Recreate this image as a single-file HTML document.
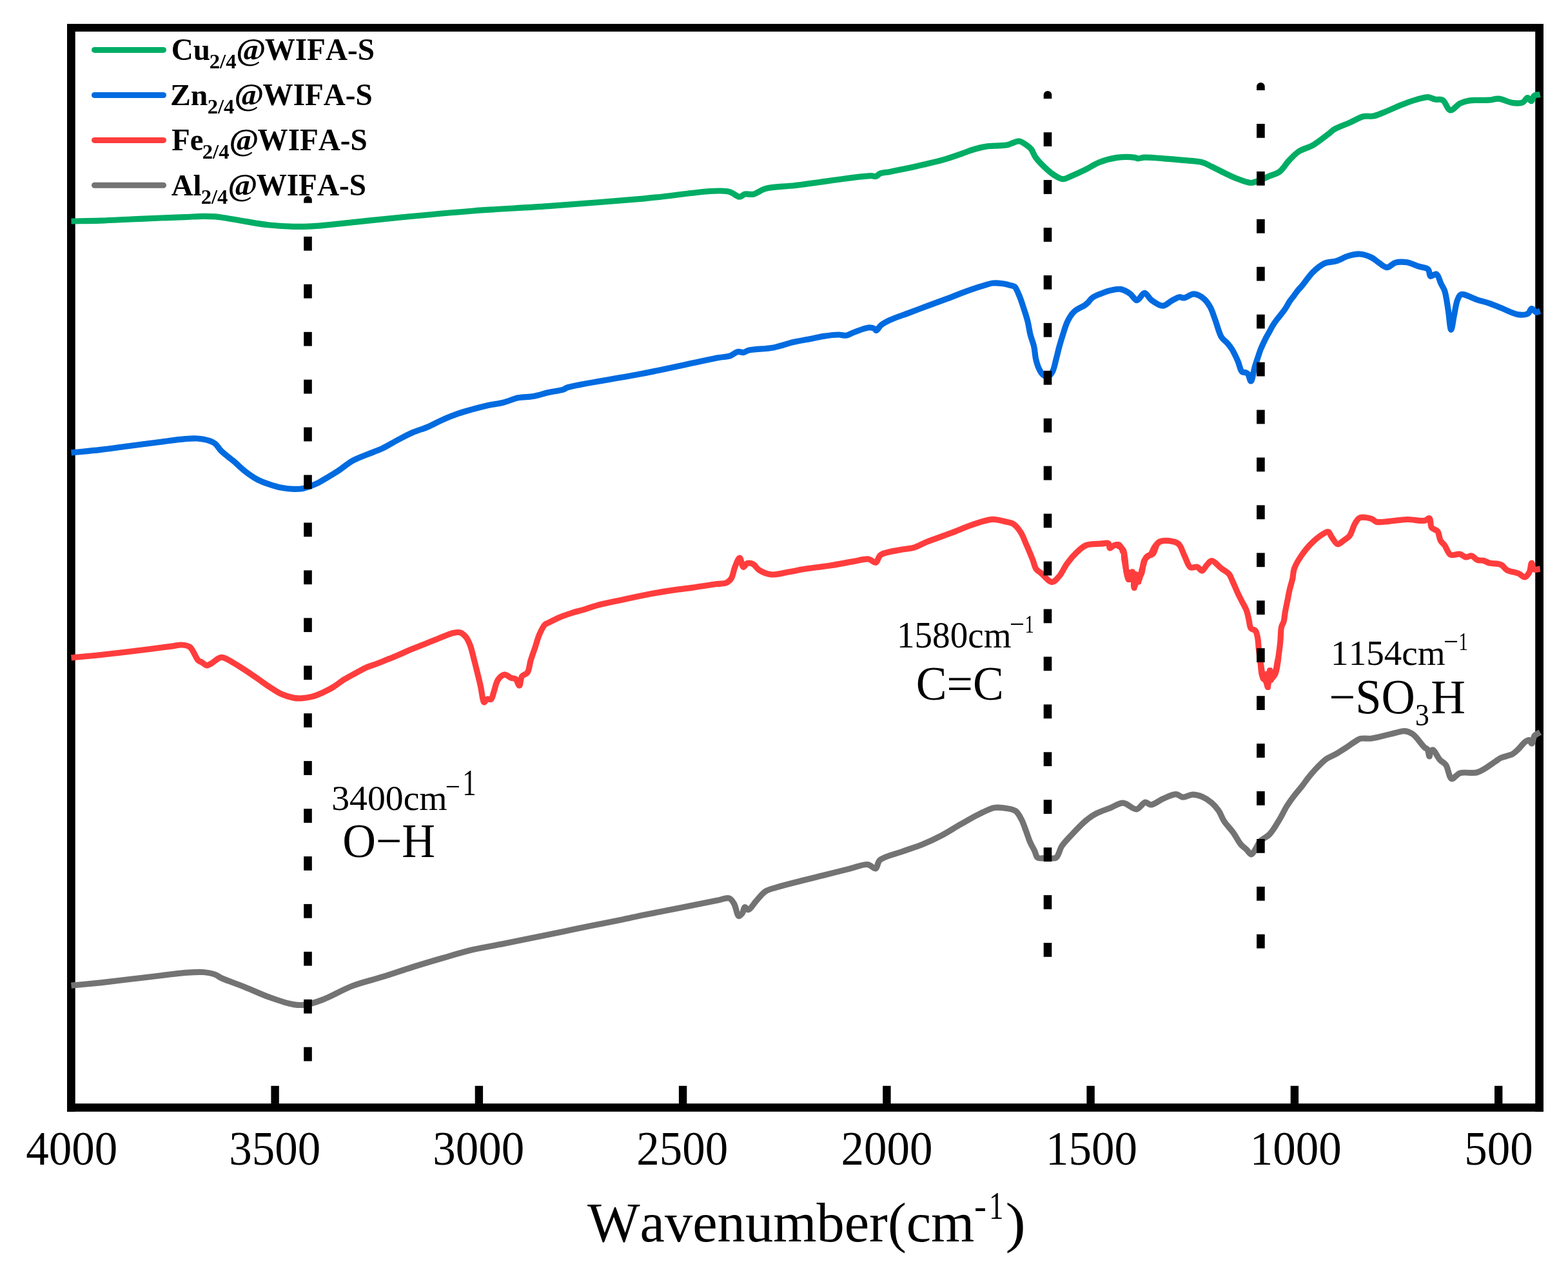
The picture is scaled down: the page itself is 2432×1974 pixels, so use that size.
<!DOCTYPE html>
<html><head><meta charset="utf-8"><title>FTIR spectra</title>
<style>html,body{margin:0;padding:0;background:#fff;overflow:hidden;} svg{display:block;}</style>
</head><body>
<svg width="2432" height="1974" viewBox="0 0 2432 1974" style="font-kerning:none">
<rect x="0" y="0" width="2432" height="1974" fill="#fff"/>
<rect x="104" y="37" width="2290" height="12" fill="#000"/>
<rect x="104" y="1711.2" width="2290" height="12.6" fill="#000"/>
<rect x="104" y="37" width="12.7" height="1686.8" fill="#000"/>
<rect x="2381.2" y="37" width="12.8" height="1686.8" fill="#000"/>
<rect x="2318.0" y="1683.8" width="12.4" height="28" fill="#000"/>
<rect x="2001.7" y="1683.8" width="12.4" height="28" fill="#000"/>
<rect x="1685.4" y="1683.8" width="12.4" height="28" fill="#000"/>
<rect x="1369.2" y="1683.8" width="12.4" height="28" fill="#000"/>
<rect x="1052.9" y="1683.8" width="12.4" height="28" fill="#000"/>
<rect x="736.7" y="1683.8" width="12.4" height="28" fill="#000"/>
<rect x="420.4" y="1683.8" width="12.4" height="28" fill="#000"/>
<path d="M110.5,343.0 C125.7,342.7 140.8,342.6 156.1,342.1 C171.6,341.6 187.3,340.7 202.9,340.0 C218.5,339.3 234.9,338.6 249.6,338.0 C262.8,337.5 275.4,337.1 287.0,336.6 C297.0,336.2 306.6,335.4 315.0,335.3 C321.9,335.3 328.6,335.5 333.8,335.9 C337.4,336.2 339.0,336.4 343.1,337.0 C351.4,338.2 368.0,341.4 380.5,343.4 C393.0,345.4 405.4,347.7 417.9,349.0 C430.3,350.3 443.7,351.1 455.3,351.4 C465.3,351.6 475.3,351.3 483.4,350.9 C489.7,350.6 492.0,350.4 500.0,349.7 C521.3,347.8 577.9,341.3 616.9,337.5 C655.9,333.7 694.8,330.0 733.8,327.0 C772.7,324.0 809.3,322.6 850.6,319.7 C897.4,316.4 952.1,311.8 1000.0,307.8 C1044.5,304.1 1105.2,292.8 1128.6,296.8 C1137.9,298.4 1142.4,305.3 1147.3,305.2 C1150.6,305.1 1152.3,301.7 1155.4,301.0 C1159.1,300.1 1163.7,302.2 1168.3,301.2 C1174.1,300.0 1179.1,294.8 1187.0,292.6 C1198.9,289.3 1214.7,289.7 1233.8,287.5 C1264.0,283.9 1334.3,273.0 1350.6,272.7 C1354.9,272.6 1356.4,274.1 1358.8,273.4 C1361.1,272.8 1362.1,270.3 1364.7,269.2 C1368.5,267.6 1374.1,267.5 1380.0,266.4 C1387.9,264.9 1398.7,262.8 1408.0,260.8 C1417.4,258.8 1426.7,256.6 1436.1,254.4 C1445.5,252.2 1454.9,250.1 1464.2,247.4 C1473.6,244.7 1483.8,241.0 1492.2,238.1 C1499.1,235.7 1504.6,233.3 1510.9,231.5 C1517.1,229.7 1523.3,228.0 1529.6,227.1 C1535.8,226.2 1542.5,226.3 1548.3,225.9 C1553.3,225.5 1558.2,225.7 1562.3,224.8 C1565.7,224.1 1568.1,222.5 1571.2,221.5 C1574.4,220.5 1577.7,218.6 1581.0,219.0 C1584.7,219.4 1589.0,222.8 1592.2,225.0 C1594.9,226.9 1597.1,228.4 1599.2,231.0 C1601.9,234.3 1603.1,239.7 1606.2,244.0 C1609.9,249.1 1615.4,254.8 1620.3,259.4 C1624.8,263.7 1629.4,267.9 1634.3,271.0 C1638.8,273.9 1643.6,277.5 1648.3,277.7 C1652.9,277.9 1657.2,274.8 1662.3,272.7 C1668.7,270.1 1676.4,266.6 1683.4,263.2 C1690.5,259.7 1696.7,255.0 1704.4,252.0 C1712.9,248.6 1723.1,245.7 1732.5,244.4 C1741.8,243.2 1755.3,243.6 1760.5,244.4 C1762.6,244.7 1763.0,245.7 1764.7,245.8 C1767.4,246.0 1770.7,244.4 1775.0,244.2 C1782.4,243.8 1794.9,245.1 1804.9,245.8 C1814.9,246.5 1824.8,247.4 1834.8,248.4 C1844.8,249.4 1856.6,249.6 1864.7,251.8 C1870.7,253.4 1874.7,256.1 1879.7,258.5 C1884.7,260.9 1889.1,263.3 1894.6,266.0 C1901.3,269.3 1909.5,273.6 1917.1,276.5 C1924.5,279.4 1934.0,283.2 1939.5,283.5 C1942.6,283.7 1943.9,282.9 1947.0,282.0 C1952.6,280.3 1962.8,275.6 1969.5,272.8 C1975.0,270.5 1979.8,269.9 1984.4,266.5 C1989.9,262.4 1994.2,254.2 1999.4,248.8 C2004.2,243.8 2008.5,238.9 2014.3,235.0 C2020.7,230.7 2029.5,229.1 2036.8,224.9 C2044.5,220.4 2053.1,213.3 2059.2,208.7 C2063.5,205.5 2065.5,202.9 2070.0,200.3 C2075.9,196.8 2084.9,193.9 2092.4,190.6 C2099.9,187.3 2108.0,182.2 2114.9,180.6 C2120.2,179.4 2124.9,181.0 2129.8,180.1 C2134.9,179.2 2139.0,177.1 2144.8,174.9 C2153.1,171.7 2165.4,165.8 2174.7,162.2 C2182.7,159.1 2190.1,156.4 2197.2,154.4 C2203.4,152.7 2210.0,150.4 2215.1,150.7 C2219.1,150.9 2221.9,153.3 2225.6,154.1 C2229.4,154.9 2234.0,153.2 2237.6,155.2 C2242.2,157.8 2244.9,170.2 2249.5,170.9 C2253.9,171.6 2259.3,162.9 2264.5,160.4 C2269.3,158.1 2273.6,156.8 2279.5,155.9 C2287.7,154.6 2301.2,155.8 2309.4,155.2 C2315.2,154.7 2318.9,152.8 2324.3,153.2 C2331.1,153.7 2340.0,158.8 2346.8,159.6 C2352.2,160.2 2357.8,160.6 2361.7,158.9 C2364.9,157.5 2366.8,151.8 2369.2,151.7 C2371.3,151.6 2373.5,157.0 2375.2,156.7 C2377.1,156.3 2377.4,150.1 2379.7,148.4 C2381.9,146.7 2385.7,147.1 2388.7,146.5" fill="none" stroke="#00AD65" stroke-width="9.2" stroke-linejoin="round" stroke-linecap="butt"/>
<path d="M110.5,701.9 C125.7,700.4 140.8,699.2 156.1,697.4 C171.6,695.6 187.3,693.2 202.9,691.2 C218.5,689.2 234.9,687.0 249.6,685.2 C262.8,683.5 276.7,681.4 287.0,680.6 C294.3,680.0 299.5,679.5 305.7,680.0 C312.0,680.5 319.3,681.7 324.4,683.4 C328.2,684.6 330.9,685.7 333.8,688.0 C337.2,690.7 339.2,695.4 343.1,699.3 C348.1,704.3 355.6,709.3 361.8,714.6 C368.1,719.9 374.1,726.2 380.5,731.1 C386.6,735.8 392.8,740.2 399.2,743.6 C405.3,746.8 411.6,749.0 417.9,751.1 C424.1,753.2 430.3,755.1 436.6,756.3 C442.8,757.5 449.4,758.3 455.3,758.4 C460.6,758.5 464.9,758.5 470.3,757.4 C477.1,756.0 487.3,751.7 492.7,749.2 C495.9,747.7 496.9,746.8 500.0,745.0 C505.6,741.7 515.7,735.9 523.4,730.9 C531.3,725.8 538.8,719.0 546.8,714.5 C554.4,710.3 562.3,707.7 570.1,704.5 C577.9,701.3 585.8,698.7 593.5,695.1 C601.4,691.4 609.1,686.4 616.9,682.3 C624.7,678.2 632.4,674.0 640.3,670.6 C648.0,667.3 655.9,665.2 663.6,661.9 C671.5,658.6 679.1,654.1 687.0,650.7 C694.7,647.3 702.5,644.1 710.4,641.4 C718.1,638.7 726.0,636.6 733.8,634.4 C741.6,632.3 749.3,630.2 757.1,628.5 C764.9,626.8 772.8,626.2 780.5,624.3 C788.4,622.3 796.0,618.4 803.9,616.8 C811.6,615.2 819.6,615.9 827.3,614.5 C835.1,613.1 842.8,610.4 850.6,608.6 C858.4,606.9 868.8,605.8 874.0,604.0 C876.7,603.0 876.6,602.1 880.0,600.9 C894.3,596.0 958.0,587.0 996.9,579.3 C1035.9,571.6 1091.5,558.9 1113.8,554.8 C1122.7,553.2 1127.1,553.6 1132.5,551.8 C1137.0,550.3 1140.3,546.2 1144.1,545.5 C1147.3,544.9 1150.7,546.9 1153.5,546.5 C1156.1,546.1 1157.1,544.3 1160.5,543.4 C1168.2,541.3 1187.8,541.2 1200.0,538.9 C1210.9,536.8 1220.5,533.0 1230.6,530.6 C1240.5,528.3 1251.5,526.6 1260.0,524.9 C1266.6,523.6 1271.1,522.3 1277.4,521.4 C1284.6,520.3 1294.3,519.0 1300.8,519.0 C1305.4,519.0 1308.7,520.7 1312.5,520.2 C1316.4,519.6 1319.5,517.2 1324.1,515.5 C1330.5,513.2 1341.4,508.3 1347.5,508.0 C1351.3,507.8 1354.9,508.9 1356.9,510.0 C1358.1,510.7 1358.2,512.5 1359.2,512.5 C1360.9,512.5 1363.2,507.0 1366.2,504.5 C1369.8,501.5 1374.4,499.1 1380.0,496.4 C1387.9,492.6 1399.9,488.9 1409.9,485.1 C1419.9,481.4 1429.8,477.6 1439.8,473.9 C1449.8,470.2 1459.8,466.6 1469.8,462.9 C1479.8,459.1 1490.4,454.7 1499.7,451.4 C1507.7,448.5 1515.0,446.0 1522.1,443.9 C1528.4,442.0 1534.3,439.6 1540.1,439.0 C1545.3,438.4 1550.1,439.0 1555.0,439.7 C1560.0,440.4 1566.6,442.2 1570.0,443.2 C1571.7,443.7 1572.6,443.5 1573.9,444.7 C1576.4,447.0 1579.0,454.1 1581.3,459.4 C1583.8,465.4 1586.0,472.5 1588.1,479.0 C1590.2,485.5 1592.4,492.0 1594.0,498.5 C1595.6,505.0 1596.3,511.6 1597.9,518.1 C1599.5,524.7 1602.3,531.1 1603.8,537.7 C1605.2,544.2 1605.3,551.3 1606.7,557.3 C1608.0,562.6 1609.6,567.9 1611.6,572.0 C1613.2,575.3 1614.6,578.5 1617.0,580.5 C1619.2,582.4 1622.5,584.5 1625.0,584.0 C1627.6,583.5 1630.2,580.2 1632.2,576.9 C1635.0,572.2 1636.2,563.9 1638.0,557.3 C1639.8,550.8 1641.1,544.2 1642.9,537.7 C1644.7,531.1 1646.7,524.6 1648.8,518.1 C1650.9,511.5 1652.8,504.4 1655.7,498.5 C1658.4,493.1 1661.8,487.5 1665.5,483.8 C1668.6,480.7 1672.7,478.7 1675.7,477.0 C1677.9,475.7 1679.7,475.2 1681.6,474.0 C1683.6,472.7 1685.6,471.0 1687.5,469.2 C1689.6,467.2 1691.0,464.2 1693.4,462.3 C1695.9,460.3 1699.3,458.7 1702.2,457.4 C1704.8,456.2 1707.2,455.5 1710.0,454.5 C1713.1,453.4 1716.1,451.9 1719.9,451.0 C1725.0,449.8 1732.3,447.6 1737.9,448.4 C1743.2,449.2 1748.5,452.5 1752.8,455.5 C1756.9,458.3 1759.7,465.6 1763.3,465.6 C1767.2,465.6 1771.5,454.3 1775.3,454.4 C1779.0,454.5 1781.5,462.1 1785.8,465.2 C1790.7,468.8 1798.2,474.4 1803.7,474.2 C1808.6,474.1 1812.8,468.7 1817.2,466.4 C1821.2,464.3 1825.5,461.2 1829.1,460.7 C1831.8,460.3 1833.7,462.2 1836.6,461.9 C1840.8,461.4 1846.6,455.8 1851.6,455.9 C1856.6,456.0 1862.3,459.3 1866.5,462.6 C1870.8,466.0 1874.1,470.9 1877.0,476.0 C1880.2,481.6 1881.9,488.3 1884.6,495.3 C1887.8,503.7 1890.5,516.4 1894.6,522.9 C1897.3,527.2 1901.1,529.0 1903.8,532.2 C1906.4,535.2 1908.4,537.7 1910.7,541.4 C1913.8,546.4 1917.2,553.8 1919.9,559.8 C1922.4,565.4 1923.5,574.0 1926.4,576.5 C1928.0,577.9 1930.4,577.1 1932.0,577.8 C1933.4,578.4 1934.5,578.7 1935.6,580.0 C1937.4,582.1 1938.7,591.1 1940.2,591.0 C1942.3,590.9 1944.1,576.0 1946.2,569.0 C1948.1,562.6 1950.5,555.7 1952.2,550.6 C1953.4,547.0 1954.2,544.4 1955.4,541.4 C1956.6,538.3 1958.1,535.3 1959.5,532.2 C1961.0,529.1 1962.5,526.0 1964.1,522.9 C1965.7,519.8 1967.5,516.8 1969.2,513.7 C1970.9,510.6 1972.4,507.5 1974.3,504.5 C1976.2,501.4 1978.4,498.3 1980.7,495.3 C1983.0,492.2 1985.8,489.2 1988.1,486.1 C1990.4,483.1 1992.6,480.0 1994.6,476.9 C1996.6,473.8 1998.1,470.6 2000.1,467.6 C2002.2,464.5 2004.7,461.5 2007.0,458.4 C2009.3,455.3 2011.8,451.7 2013.9,449.2 C2015.4,447.4 2016.3,446.8 2018.2,444.7 C2022.3,440.1 2030.0,428.2 2036.5,421.9 C2042.2,416.4 2048.3,411.2 2054.7,408.3 C2060.5,405.7 2066.9,406.5 2072.9,404.6 C2079.1,402.7 2085.0,398.6 2091.2,396.8 C2097.2,395.1 2103.4,393.6 2109.4,394.0 C2115.5,394.4 2122.5,397.0 2127.6,399.5 C2131.9,401.6 2134.7,404.8 2138.6,407.3 C2142.6,409.9 2147.1,414.6 2151.3,414.6 C2155.6,414.6 2159.3,408.7 2164.1,407.3 C2169.5,405.8 2176.3,405.9 2182.3,406.8 C2188.5,407.8 2194.8,411.3 2200.6,413.2 C2205.7,414.9 2212.1,414.8 2215.1,417.7 C2217.7,420.2 2216.5,427.2 2218.8,428.3 C2220.9,429.3 2225.4,424.0 2227.9,425.0 C2231.2,426.4 2232.9,435.6 2235.2,440.2 C2237.1,444.1 2239.1,446.4 2240.7,451.1 C2243.1,458.4 2244.5,470.4 2246.1,480.3 C2247.8,490.5 2249.0,511.2 2250.7,511.3 C2252.1,511.3 2253.7,496.9 2255.3,489.4 C2257.0,481.4 2258.2,470.6 2260.7,464.8 C2262.3,461.1 2263.1,457.7 2266.2,456.6 C2271.3,454.9 2283.9,462.7 2291.7,465.1 C2298.3,467.1 2304.0,468.3 2310.0,470.3 C2316.1,472.4 2321.5,474.9 2328.2,477.5 C2336.4,480.7 2347.7,487.0 2355.5,487.9 C2361.0,488.6 2366.7,488.1 2370.1,486.1 C2372.8,484.5 2373.5,478.8 2375.6,478.5 C2377.7,478.2 2380.5,483.9 2382.9,484.3 C2384.9,484.6 2386.8,482.8 2388.7,482.1" fill="none" stroke="#006BE0" stroke-width="9.2" stroke-linejoin="round" stroke-linecap="butt"/>
<path d="M110.5,1019.8 C125.7,1018.4 140.1,1017.2 156.1,1015.5 C173.8,1013.6 193.5,1011.3 212.2,1009.0 C230.9,1006.7 256.1,1003.6 268.3,1001.9 C274.2,1001.1 277.1,999.8 281.4,1000.0 C285.8,1000.2 291.3,1001.2 294.5,1003.4 C297.2,1005.2 298.2,1008.2 300.1,1011.2 C302.5,1015.0 304.9,1021.7 307.6,1024.3 C309.4,1026.0 311.2,1026.0 313.2,1027.1 C315.5,1028.4 318.2,1031.6 320.7,1031.8 C323.1,1032.0 325.3,1030.1 328.1,1028.6 C332.3,1026.4 337.7,1019.7 343.1,1019.3 C348.9,1018.9 355.7,1024.4 361.8,1027.7 C368.1,1031.1 374.3,1035.3 380.5,1039.3 C386.8,1043.4 393.0,1047.7 399.2,1052.0 C405.4,1056.3 411.6,1061.0 417.9,1065.1 C424.1,1069.1 430.2,1073.4 436.6,1076.3 C442.7,1079.0 449.8,1081.1 455.3,1082.1 C459.5,1082.9 462.4,1083.1 466.5,1082.9 C471.6,1082.7 477.9,1081.8 483.4,1080.4 C489.0,1078.9 494.5,1076.6 500.0,1074.2 C505.7,1071.7 511.3,1068.8 516.8,1065.5 C522.5,1062.0 528.0,1057.3 533.7,1053.7 C539.2,1050.3 544.9,1047.4 550.5,1044.4 C556.1,1041.4 561.6,1038.0 567.3,1035.5 C572.8,1033.0 578.6,1031.4 584.2,1029.3 C589.8,1027.1 595.4,1024.8 601.0,1022.6 C606.6,1020.3 612.2,1018.2 617.8,1015.8 C623.4,1013.4 629.0,1010.7 634.6,1008.3 C640.2,1005.9 645.9,1003.8 651.5,1001.5 C657.1,999.3 662.7,997.0 668.3,994.8 C673.9,992.6 679.5,990.3 685.1,988.1 C690.7,985.9 696.8,982.9 702.0,981.7 C706.2,980.8 710.3,979.8 713.7,980.8 C717.0,981.8 719.8,984.4 722.2,987.2 C725.0,990.5 726.9,994.8 728.9,999.8 C731.6,1006.5 733.6,1016.4 735.6,1024.2 C737.5,1031.2 739.0,1037.6 740.7,1044.4 C742.4,1051.4 744.3,1058.6 745.7,1065.5 C747.1,1072.1 747.9,1080.7 749.1,1084.8 C749.7,1086.7 749.9,1088.8 750.8,1089.0 C751.9,1089.2 753.9,1084.7 755.8,1084.0 C757.6,1083.3 760.1,1085.3 761.7,1084.3 C763.9,1082.8 764.4,1077.4 765.9,1073.1 C767.9,1067.5 769.2,1058.4 772.6,1053.7 C775.3,1050.0 779.2,1046.4 782.7,1046.1 C786.0,1045.8 789.7,1050.0 792.8,1051.2 C795.2,1052.1 797.7,1051.4 799.6,1052.9 C802.1,1054.8 803.9,1063.2 805.5,1063.0 C807.3,1062.8 807.2,1052.2 809.7,1048.7 C811.8,1045.8 816.0,1045.8 818.1,1042.8 C821.0,1038.6 821.2,1030.5 823.1,1024.2 C825.1,1017.6 827.7,1010.8 829.9,1004.1 C832.2,997.4 833.9,990.0 836.6,983.9 C839.0,978.4 842.1,971.5 845.0,968.7 C846.6,967.1 847.8,967.1 850.0,966.0 C854.2,963.8 862.4,959.5 868.7,956.9 C874.9,954.3 881.1,952.3 887.4,950.3 C893.6,948.3 899.9,947.0 906.1,945.1 C912.4,943.2 917.4,941.1 924.8,939.1 C935.1,936.3 949.7,933.4 962.2,930.7 C974.7,928.0 987.1,925.1 999.6,922.7 C1012.0,920.3 1024.5,918.0 1037.0,916.1 C1049.4,914.2 1061.9,912.9 1074.4,911.1 C1086.9,909.3 1102.1,906.8 1111.8,905.5 C1117.9,904.7 1122.9,905.4 1126.8,903.6 C1130.0,902.2 1132.2,900.1 1134.2,897.0 C1137.0,892.8 1137.6,884.8 1139.9,879.3 C1142.0,874.2 1145.1,865.1 1147.3,865.2 C1149.4,865.3 1150.6,878.8 1152.9,879.3 C1154.6,879.7 1156.2,874.5 1158.6,873.7 C1161.2,872.8 1165.0,873.2 1167.9,874.6 C1171.3,876.2 1173.3,881.3 1177.3,883.9 C1182.2,887.0 1189.0,890.2 1196.0,890.9 C1204.3,891.8 1214.9,888.3 1224.0,886.8 C1232.8,885.3 1240.5,883.5 1250.0,882.0 C1261.3,880.2 1275.0,878.9 1287.4,877.0 C1299.9,875.1 1313.9,872.2 1324.8,870.4 C1333.2,869.0 1341.1,866.1 1347.2,867.0 C1351.7,867.7 1355.4,873.2 1358.5,872.3 C1361.7,871.3 1361.6,863.6 1365.9,860.5 C1372.6,855.6 1390.0,854.1 1399.6,852.1 C1406.7,850.6 1412.2,850.8 1418.3,848.9 C1424.7,847.0 1429.6,843.5 1437.0,840.5 C1447.3,836.3 1462.0,831.5 1474.4,826.8 C1486.9,822.1 1500.1,816.1 1511.8,812.4 C1521.7,809.2 1531.5,805.6 1539.9,805.3 C1546.7,805.1 1553.0,807.4 1558.6,808.7 C1563.4,809.8 1567.7,810.0 1571.6,812.4 C1575.9,815.1 1579.6,820.0 1582.9,825.0 C1586.7,830.7 1589.1,838.3 1592.2,845.2 C1595.4,852.4 1598.9,860.9 1601.6,867.6 C1603.8,873.1 1604.6,879.0 1607.2,882.6 C1609.2,885.4 1611.6,886.2 1614.6,888.6 C1619.1,892.3 1626.4,902.5 1631.5,902.6 C1635.6,902.7 1639.2,897.7 1642.7,893.8 C1647.2,888.8 1650.4,880.1 1655.0,873.9 C1659.5,867.8 1664.7,861.6 1669.9,856.7 C1674.7,852.2 1679.0,847.7 1684.9,845.4 C1691.3,842.9 1701.0,843.6 1707.3,843.2 C1711.9,842.9 1717.0,841.1 1719.3,842.7 C1721.1,844.0 1720.0,849.3 1721.5,849.9 C1723.2,850.6 1726.8,845.0 1729.8,845.0 C1733.4,845.0 1739.2,848.8 1741.7,852.2 C1744.1,855.5 1743.8,860.0 1744.7,864.9 C1745.9,871.6 1745.9,884.1 1747.7,888.8 C1748.5,891.0 1749.3,892.3 1750.7,893.3 C1752.2,894.4 1755.2,893.3 1756.7,894.8 C1758.9,897.1 1758.4,908.2 1759.7,908.3 C1760.9,908.4 1762.3,900.9 1764.2,897.8 C1765.9,895.0 1768.6,893.7 1770.2,890.3 C1772.6,885.3 1772.2,874.4 1774.6,869.4 C1776.2,866.0 1778.2,863.7 1780.6,861.9 C1782.8,860.3 1785.8,861.0 1788.1,858.9 C1791.7,855.6 1792.1,844.2 1797.1,840.9 C1802.4,837.5 1813.8,838.6 1819.5,839.7 C1823.3,840.4 1825.9,841.3 1828.5,843.9 C1832.3,847.6 1834.4,856.5 1837.5,862.6 C1840.5,868.5 1842.5,877.6 1846.5,879.8 C1849.4,881.4 1853.9,878.2 1856.9,879.1 C1859.8,880.0 1862.0,885.3 1864.4,885.1 C1867.0,884.8 1869.3,878.7 1871.9,876.1 C1874.3,873.7 1876.4,869.8 1879.4,869.7 C1883.5,869.6 1889.6,877.7 1894.3,881.3 C1898.5,884.5 1903.4,886.8 1906.3,890.3 C1908.9,893.4 1909.6,896.7 1911.5,900.7 C1914.0,906.0 1916.9,913.5 1919.6,919.2 C1921.9,924.2 1924.2,928.4 1926.5,933.0 C1928.8,937.6 1931.7,942.1 1933.4,946.8 C1935.1,951.3 1935.8,956.0 1936.9,960.6 C1938.1,965.2 1938.0,971.6 1940.3,974.5 C1942.0,976.6 1945.5,975.9 1947.2,977.9 C1949.3,980.4 1949.8,985.1 1950.7,989.4 C1951.7,994.5 1951.7,1000.5 1952.4,1006.7 C1953.2,1013.8 1954.4,1022.7 1955.3,1029.8 C1956.1,1036.0 1955.9,1042.9 1957.6,1047.0 C1958.7,1049.6 1960.9,1050.5 1962.2,1052.8 C1963.8,1055.7 1965.1,1063.3 1966.2,1063.2 C1967.6,1063.0 1967.3,1044.0 1969.1,1043.6 C1970.3,1043.3 1972.2,1050.6 1973.7,1050.5 C1975.6,1050.4 1978.0,1043.5 1979.5,1039.0 C1981.4,1033.2 1981.9,1025.3 1982.9,1018.2 C1984.0,1010.7 1985.0,1002.9 1985.8,995.2 C1986.6,987.5 1986.2,977.8 1987.6,972.2 C1988.4,968.7 1990.1,967.3 1991.0,964.1 C1992.2,959.9 1992.4,954.3 1993.3,949.1 C1994.3,943.5 1995.6,937.6 1996.8,931.8 C1997.9,926.1 1998.9,920.3 2000.2,914.6 C2001.5,908.8 2003.6,902.9 2004.8,897.3 C2005.9,892.1 2005.5,887.4 2007.3,882.1 C2009.5,875.7 2013.7,868.6 2018.2,862.0 C2023.2,854.6 2030.0,846.3 2036.5,840.2 C2042.3,834.7 2050.2,828.8 2054.7,826.5 C2056.9,825.3 2058.6,824.1 2060.2,824.7 C2062.3,825.4 2063.5,830.0 2065.6,832.9 C2068.2,836.3 2071.5,843.3 2074.8,843.8 C2077.7,844.3 2080.9,840.4 2083.9,838.3 C2087.0,836.1 2090.3,834.5 2093.0,831.1 C2096.7,826.4 2098.8,816.0 2102.1,811.0 C2104.4,807.4 2106.0,804.1 2109.4,802.8 C2113.8,801.1 2123.0,803.0 2127.6,804.6 C2130.7,805.7 2131.7,808.4 2134.9,809.2 C2139.8,810.5 2147.8,808.8 2155.0,808.3 C2163.4,807.7 2173.2,805.7 2182.3,805.5 C2191.4,805.3 2203.6,808.5 2209.7,807.3 C2213.0,806.6 2215.2,802.9 2217.0,803.7 C2219.4,804.8 2218.1,814.9 2220.6,818.3 C2222.7,821.2 2227.5,821.0 2229.7,823.8 C2232.4,827.2 2232.1,834.5 2234.3,838.3 C2236.0,841.4 2238.5,842.6 2240.7,845.6 C2243.6,849.5 2245.6,858.0 2249.8,860.2 C2253.7,862.2 2260.2,858.4 2264.4,859.3 C2267.9,860.0 2270.4,863.5 2273.5,863.9 C2276.5,864.3 2279.7,861.4 2282.6,862.0 C2285.8,862.7 2288.5,867.2 2291.7,868.4 C2294.6,869.5 2297.8,868.6 2300.8,869.3 C2303.9,870.1 2306.3,872.0 2310.0,873.0 C2315.0,874.3 2323.4,873.5 2328.2,875.7 C2332.1,877.5 2333.4,881.7 2337.3,883.9 C2342.1,886.6 2350.6,887.2 2355.5,889.4 C2359.2,891.0 2361.9,895.3 2364.7,894.9 C2367.4,894.6 2370.1,890.7 2371.9,887.6 C2374.1,883.8 2374.3,873.1 2375.6,873.0 C2376.7,872.9 2376.9,881.5 2379.2,883.0 C2381.4,884.4 2385.5,882.4 2388.7,882.1" fill="none" stroke="#FF3D3D" stroke-width="9.2" stroke-linejoin="round" stroke-linecap="butt"/>
<path d="M110.5,1528.2 C125.7,1526.7 140.8,1525.4 156.1,1523.8 C171.6,1522.1 187.3,1520.2 202.9,1518.3 C218.5,1516.5 234.9,1514.4 249.6,1512.7 C262.8,1511.2 275.4,1509.3 287.0,1508.4 C297.0,1507.7 306.6,1506.8 315.0,1507.5 C321.9,1508.1 328.7,1509.3 333.8,1511.2 C337.6,1512.6 338.9,1514.5 343.1,1516.5 C351.3,1520.4 368.1,1525.9 380.5,1530.9 C393.0,1535.9 405.3,1541.9 417.9,1546.4 C430.3,1550.8 444.9,1556.0 455.3,1557.6 C462.5,1558.7 467.3,1558.9 474.0,1558.0 C482.0,1556.9 490.2,1554.1 500.0,1550.4 C513.5,1545.3 531.0,1534.7 546.8,1528.7 C562.2,1522.9 578.0,1519.6 593.5,1514.7 C609.1,1509.8 624.7,1504.4 640.3,1499.5 C655.8,1494.6 671.4,1490.0 687.0,1485.5 C702.6,1481.0 718.1,1476.3 733.8,1472.6 C749.3,1469.0 764.9,1466.6 780.5,1463.5 C796.1,1460.4 811.7,1457.2 827.3,1454.0 C842.9,1450.8 858.4,1447.6 874.0,1444.4 C889.6,1441.2 905.2,1438.0 920.8,1434.8 C936.4,1431.7 953.4,1428.4 967.5,1425.5 C979.3,1423.0 987.7,1421.0 1000.0,1418.5 C1016.2,1415.2 1037.4,1411.2 1056.1,1407.5 C1074.8,1403.8 1098.5,1398.9 1112.2,1396.3 C1120.1,1394.8 1126.3,1391.4 1130.9,1392.9 C1134.4,1394.1 1136.2,1397.4 1138.4,1401.0 C1141.4,1405.9 1143.0,1419.8 1145.9,1420.6 C1147.6,1421.0 1150.0,1418.0 1151.5,1415.9 C1153.2,1413.5 1153.4,1407.1 1155.2,1406.6 C1156.7,1406.2 1158.7,1410.9 1160.8,1410.7 C1164.0,1410.4 1168.0,1402.6 1172.0,1398.2 C1176.6,1393.2 1181.2,1386.1 1187.0,1382.3 C1192.5,1378.7 1198.3,1378.0 1205.7,1375.7 C1216.0,1372.5 1230.6,1369.0 1243.1,1365.8 C1255.6,1362.6 1268.0,1359.6 1280.5,1356.5 C1293.0,1353.4 1306.3,1349.9 1317.9,1347.1 C1327.9,1344.7 1338.7,1339.7 1346.0,1340.6 C1351.0,1341.2 1355.0,1347.8 1358.1,1346.8 C1361.3,1345.8 1360.5,1337.5 1364.7,1333.7 C1371.4,1327.7 1388.7,1324.3 1400.0,1320.2 C1410.4,1316.4 1420.0,1313.8 1429.9,1309.8 C1440.0,1305.7 1449.9,1301.1 1459.8,1295.9 C1469.9,1290.6 1479.8,1284.0 1489.8,1278.3 C1499.7,1272.7 1510.3,1266.4 1519.7,1261.9 C1527.6,1258.1 1535.3,1253.8 1542.1,1252.5 C1547.5,1251.5 1551.9,1252.2 1557.1,1252.9 C1562.8,1253.7 1570.4,1254.3 1575.0,1257.4 C1579.2,1260.3 1581.4,1265.3 1584.0,1270.1 C1587.0,1275.6 1589.2,1282.7 1591.5,1288.8 C1593.7,1294.5 1595.2,1300.0 1597.5,1305.3 C1599.7,1310.5 1602.9,1315.7 1605.0,1320.2 C1606.7,1323.8 1606.7,1328.2 1609.5,1330.0 C1612.7,1332.1 1619.6,1330.3 1624.4,1330.3 C1629.0,1330.3 1634.3,1332.3 1637.9,1330.0 C1642.3,1327.2 1643.1,1317.7 1646.9,1312.0 C1651.0,1305.9 1656.2,1300.8 1661.8,1294.8 C1668.4,1287.7 1677.2,1278.3 1684.3,1272.4 C1689.8,1267.8 1694.1,1264.7 1700.0,1261.6 C1706.6,1258.1 1715.2,1255.5 1722.4,1252.7 C1729.1,1250.1 1735.3,1245.0 1741.9,1245.2 C1748.8,1245.4 1756.8,1255.6 1762.8,1254.9 C1768.0,1254.3 1772.1,1244.7 1776.3,1244.1 C1779.5,1243.7 1781.8,1248.0 1785.3,1247.9 C1790.6,1247.7 1798.1,1240.9 1804.7,1238.2 C1811.1,1235.5 1818.8,1231.5 1824.2,1231.7 C1828.2,1231.9 1830.8,1235.9 1834.6,1236.2 C1839.1,1236.5 1844.6,1232.3 1849.6,1232.2 C1854.6,1232.1 1859.8,1233.5 1864.6,1235.5 C1869.8,1237.6 1875.2,1241.2 1879.5,1244.9 C1883.6,1248.4 1886.9,1252.3 1890.0,1256.9 C1893.5,1261.9 1895.4,1268.6 1899.0,1274.1 C1902.8,1279.8 1908.2,1284.7 1912.4,1290.5 C1916.7,1296.4 1920.4,1304.4 1924.4,1309.2 C1927.4,1312.7 1930.6,1314.7 1933.4,1317.4 C1936.0,1319.9 1938.6,1325.0 1940.9,1324.9 C1943.1,1324.8 1944.9,1320.3 1946.9,1317.4 C1949.4,1313.8 1950.9,1308.5 1954.3,1304.7 C1958.1,1300.4 1964.7,1298.4 1969.3,1293.5 C1974.8,1287.7 1979.8,1278.6 1984.3,1271.1 C1988.6,1264.0 1992.0,1256.3 1996.0,1249.9 C1999.4,1244.4 2002.8,1239.8 2006.5,1234.9 C2010.3,1229.8 2014.8,1224.9 2018.8,1219.9 C2022.7,1214.9 2026.1,1209.8 2030.1,1204.9 C2034.2,1199.8 2038.6,1194.6 2043.2,1189.9 C2047.7,1185.3 2052.4,1180.3 2057.4,1176.8 C2062.1,1173.5 2067.5,1171.8 2072.4,1169.0 C2077.5,1166.1 2082.4,1162.8 2087.4,1159.6 C2092.4,1156.3 2098.2,1152.0 2102.4,1149.5 C2105.3,1147.7 2106.7,1146.2 2109.9,1145.4 C2114.4,1144.2 2120.7,1145.9 2127.6,1145.0 C2137.6,1143.7 2154.7,1138.4 2164.1,1136.4 C2170.0,1135.2 2174.1,1133.3 2178.7,1133.7 C2183.1,1134.1 2187.1,1135.6 2191.4,1138.6 C2197.5,1142.8 2205.5,1155.6 2209.7,1159.2 C2211.5,1160.7 2212.9,1160.5 2214.0,1162.0 C2215.7,1164.3 2216.1,1172.9 2217.0,1172.9 C2217.8,1172.9 2217.8,1166.7 2219.0,1165.0 C2219.9,1163.8 2221.1,1162.5 2222.4,1162.8 C2225.2,1163.3 2229.6,1174.2 2233.4,1178.3 C2236.4,1181.5 2239.8,1182.4 2242.5,1186.0 C2246.2,1191.1 2247.4,1206.2 2251.6,1207.5 C2255.1,1208.5 2259.0,1200.6 2264.4,1198.8 C2271.5,1196.4 2282.9,1200.2 2291.7,1197.5 C2301.2,1194.6 2312.7,1185.1 2319.1,1181.0 C2322.7,1178.7 2323.9,1177.2 2327.3,1175.5 C2332.1,1173.1 2341.1,1172.1 2346.0,1169.3 C2349.9,1167.1 2352.3,1164.3 2355.3,1161.4 C2358.5,1158.3 2361.6,1153.5 2364.7,1151.1 C2367.0,1149.3 2369.6,1147.1 2371.5,1147.5 C2373.3,1147.9 2374.6,1153.2 2375.9,1153.0 C2377.6,1152.7 2377.7,1144.0 2380.0,1141.0 C2382.1,1138.3 2385.8,1137.3 2388.7,1135.5" fill="none" stroke="#737373" stroke-width="9.2" stroke-linejoin="round" stroke-linecap="butt"/>
<polygon points="1951.1,1027 1952,1039 1953,1046.9 1954.1,1051.7 1955.2,1054.8 1958.4,1057.7 1961.1,1058 1961.2,1065 1962.2,1067.8 1964.4,1070 1968.7,1070 1970.9,1067.8 1971.2,1062.8 1971.7,1059.3 1974.8,1057.7 1976.4,1054.8 1979.9,1050.4 1982.1,1046.9 1983.7,1041.9 1984.7,1037.1 1985.6,1030.8 1986.6,1025.7 1987.5,1020 1978,1020 1977.1,1024.1 1976.1,1029.2 1975.2,1035.2 1974.2,1038.4 1973.3,1036.2 1972,1035.2 1967.6,1035.2 1965.3,1037.1 1965,1040 1963.4,1041.2 1961.9,1040.9 1961.2,1037.1 1960.3,1030.5 1959.6,1027" fill="#FF3D3D"/>
<polygon points="1730,849.7 1733.7,849.7 1736,852.4 1736.9,856.6 1738.8,859.4 1739,866.7 1739.9,871.8 1741.1,878.7 1742,883.8 1742.9,889.8 1743.8,893.9 1745,898.1 1746.1,900.8 1748.4,902.9 1754,902.9 1754,909.6 1755.1,913.7 1757.2,916 1760.4,916 1763,914.7 1764.1,910.5 1765,906.8 1767.8,906.6 1769.6,905.4 1770.6,901.8 1771.9,898.5 1773.3,893.5 1774.2,889.3 1775.6,884.2 1777,879.6 1778.4,875.5 1779.8,870 1781.2,868.1 1783.9,865.8 1787.6,864.4 1789.9,860.3 1792.2,856.1 1796.4,849.2 1798.2,846 1800,845.5 1800,840 1791.3,840 1788.1,844.1 1785.8,847.4 1783,853.4 1781.2,857.1 1777.5,858.4 1774.2,861.2 1772.4,864.9 1771,868.6 1769.2,873.2 1767.8,878.7 1766.4,882.9 1765.9,887 1764.1,886.5 1761.3,886.1 1759.5,882.9 1755.8,881.9 1753,883.3 1751.7,883.8 1750.7,881.5 1750.3,877.8 1749.4,871.8 1748.4,865.8 1747.5,857.5 1746.6,853.8 1745.2,851.1 1742.4,845.5 1738.3,840.9 1735.5,840 1730,840" fill="#FF3D3D"/>
<path d="M471.2,314.8 V310.3 A6.3,6.3 0 0 1 483.8,310.3 V314.8 Z" fill="#000"/>
<rect x="471.2" y="366.9" width="12.6" height="21.8" fill="#000"/>
<rect x="471.2" y="440.8" width="12.6" height="21.8" fill="#000"/>
<rect x="471.2" y="514.8" width="12.6" height="21.8" fill="#000"/>
<rect x="471.2" y="588.7" width="12.6" height="21.8" fill="#000"/>
<rect x="471.2" y="662.6" width="12.6" height="21.8" fill="#000"/>
<rect x="471.2" y="736.5" width="12.6" height="21.8" fill="#000"/>
<rect x="471.2" y="810.5" width="12.6" height="21.8" fill="#000"/>
<rect x="471.2" y="884.4" width="12.6" height="21.8" fill="#000"/>
<rect x="471.2" y="958.3" width="12.6" height="21.8" fill="#000"/>
<rect x="471.2" y="1032.3" width="12.6" height="21.8" fill="#000"/>
<rect x="471.2" y="1106.2" width="12.6" height="21.8" fill="#000"/>
<rect x="471.2" y="1180.1" width="12.6" height="21.8" fill="#000"/>
<rect x="471.2" y="1254.1" width="12.6" height="21.8" fill="#000"/>
<rect x="471.2" y="1328.0" width="12.6" height="21.8" fill="#000"/>
<rect x="471.2" y="1401.9" width="12.6" height="21.8" fill="#000"/>
<rect x="471.2" y="1475.8" width="12.6" height="21.8" fill="#000"/>
<rect x="471.2" y="1549.8" width="12.6" height="21.8" fill="#000"/>
<rect x="471.2" y="1623.7" width="12.6" height="21.8" fill="#000"/>
<path d="M1618.7,153.1 V147.3 A6.3,6.3 0 0 1 1631.3,147.3 V153.1 Z" fill="#000"/>
<rect x="1618.7" y="205.2" width="12.6" height="21.8" fill="#000"/>
<rect x="1618.7" y="279.1" width="12.6" height="21.8" fill="#000"/>
<rect x="1618.7" y="353.1" width="12.6" height="21.8" fill="#000"/>
<rect x="1618.7" y="427.0" width="12.6" height="21.8" fill="#000"/>
<rect x="1618.7" y="500.9" width="12.6" height="21.8" fill="#000"/>
<rect x="1618.7" y="574.9" width="12.6" height="21.8" fill="#000"/>
<rect x="1618.7" y="648.8" width="12.6" height="21.8" fill="#000"/>
<rect x="1618.7" y="722.7" width="12.6" height="21.8" fill="#000"/>
<rect x="1618.7" y="796.6" width="12.6" height="21.8" fill="#000"/>
<rect x="1618.7" y="870.6" width="12.6" height="21.8" fill="#000"/>
<rect x="1618.7" y="944.5" width="12.6" height="21.8" fill="#000"/>
<rect x="1618.7" y="1018.4" width="12.6" height="21.8" fill="#000"/>
<rect x="1618.7" y="1092.4" width="12.6" height="21.8" fill="#000"/>
<rect x="1618.7" y="1166.3" width="12.6" height="21.8" fill="#000"/>
<rect x="1618.7" y="1240.2" width="12.6" height="21.8" fill="#000"/>
<rect x="1618.7" y="1314.2" width="12.6" height="21.8" fill="#000"/>
<rect x="1618.7" y="1388.1" width="12.6" height="21.8" fill="#000"/>
<rect x="1618.7" y="1462.0" width="12.6" height="21.8" fill="#000"/>
<path d="M1949.1,139.9 V134.3 A6.3,6.3 0 0 1 1961.7,134.3 V139.9 Z" fill="#000"/>
<rect x="1949.1" y="192.0" width="12.6" height="21.8" fill="#000"/>
<rect x="1949.1" y="265.9" width="12.6" height="21.8" fill="#000"/>
<rect x="1949.1" y="339.9" width="12.6" height="21.8" fill="#000"/>
<rect x="1949.1" y="413.8" width="12.6" height="21.8" fill="#000"/>
<rect x="1949.1" y="487.7" width="12.6" height="21.8" fill="#000"/>
<rect x="1949.1" y="561.7" width="12.6" height="21.8" fill="#000"/>
<rect x="1949.1" y="635.6" width="12.6" height="21.8" fill="#000"/>
<rect x="1949.1" y="709.5" width="12.6" height="21.8" fill="#000"/>
<rect x="1949.1" y="783.4" width="12.6" height="21.8" fill="#000"/>
<rect x="1949.1" y="857.4" width="12.6" height="21.8" fill="#000"/>
<rect x="1949.1" y="931.3" width="12.6" height="21.8" fill="#000"/>
<rect x="1949.1" y="1005.2" width="12.6" height="21.8" fill="#000"/>
<rect x="1949.1" y="1079.2" width="12.6" height="21.8" fill="#000"/>
<rect x="1949.1" y="1153.1" width="12.6" height="21.8" fill="#000"/>
<rect x="1949.1" y="1227.0" width="12.6" height="21.8" fill="#000"/>
<rect x="1949.1" y="1301.0" width="12.6" height="21.8" fill="#000"/>
<rect x="1949.1" y="1374.9" width="12.6" height="21.8" fill="#000"/>
<rect x="1949.1" y="1448.8" width="12.6" height="21.8" fill="#000"/>
<line x1="146.5" y1="77.4" x2="253.5" y2="77.4" stroke="#00AD65" stroke-width="9" stroke-linecap="round"/>
<line x1="146.5" y1="147.5" x2="253.5" y2="147.5" stroke="#006BE0" stroke-width="9" stroke-linecap="round"/>
<line x1="146.5" y1="217.4" x2="253.5" y2="217.4" stroke="#FF3D3D" stroke-width="9" stroke-linecap="round"/>
<line x1="146.5" y1="287.3" x2="253.5" y2="287.3" stroke="#737373" stroke-width="9" stroke-linecap="round"/>
<text transform="translate(265.78,93.41) scale(0.2355,0.2470)" font-family="&apos;Liberation Serif&apos;, serif" font-weight="bold" font-size="200" fill="#000">Cu</text>
<text transform="translate(324.69,105.69) scale(0.1643,0.1575)" font-family="&apos;Liberation Serif&apos;, serif" font-weight="bold" font-size="200" fill="#000">2/4</text>
<text transform="translate(366.32,92.97) scale(0.2482,0.2404)" font-family="&apos;Liberation Serif&apos;, serif" font-weight="bold" font-size="200" fill="#000">@</text>
<text transform="translate(410.63,93.17) scale(0.2358,0.2437)" font-family="&apos;Liberation Serif&apos;, serif" font-weight="bold" font-size="200" fill="#000">WIFA-S</text>
<text transform="translate(263.95,163.00) scale(0.2391,0.2366)" font-family="&apos;Liberation Serif&apos;, serif" font-weight="bold" font-size="200" fill="#000">Zn</text>
<text transform="translate(321.69,175.59) scale(0.1635,0.1560)" font-family="&apos;Liberation Serif&apos;, serif" font-weight="bold" font-size="200" fill="#000">2/4</text>
<text transform="translate(363.44,162.81) scale(0.2464,0.2392)" font-family="&apos;Liberation Serif&apos;, serif" font-weight="bold" font-size="200" fill="#000">@</text>
<text transform="translate(407.53,163.17) scale(0.2358,0.2437)" font-family="&apos;Liberation Serif&apos;, serif" font-weight="bold" font-size="200" fill="#000">WIFA-S</text>
<text transform="translate(266.20,233.42) scale(0.2330,0.2398)" font-family="&apos;Liberation Serif&apos;, serif" font-weight="bold" font-size="200" fill="#000">Fe</text>
<text transform="translate(313.69,245.59) scale(0.1639,0.1560)" font-family="&apos;Liberation Serif&apos;, serif" font-weight="bold" font-size="200" fill="#000">2/4</text>
<text transform="translate(355.43,232.81) scale(0.2470,0.2392)" font-family="&apos;Liberation Serif&apos;, serif" font-weight="bold" font-size="200" fill="#000">@</text>
<text transform="translate(399.53,233.17) scale(0.2358,0.2437)" font-family="&apos;Liberation Serif&apos;, serif" font-weight="bold" font-size="200" fill="#000">WIFA-S</text>
<text transform="translate(265.63,302.77) scale(0.2344,0.2302)" font-family="&apos;Liberation Serif&apos;, serif" font-weight="bold" font-size="200" fill="#000">Al</text>
<text transform="translate(311.69,315.59) scale(0.1635,0.1560)" font-family="&apos;Liberation Serif&apos;, serif" font-weight="bold" font-size="200" fill="#000">2/4</text>
<text transform="translate(353.43,302.81) scale(0.2470,0.2392)" font-family="&apos;Liberation Serif&apos;, serif" font-weight="bold" font-size="200" fill="#000">@</text>
<text transform="translate(397.63,303.17) scale(0.2358,0.2437)" font-family="&apos;Liberation Serif&apos;, serif" font-weight="bold" font-size="200" fill="#000">WIFA-S</text>
<text transform="translate(514.29,1255.65) scale(0.2784,0.2756)" font-family="&apos;Liberation Serif&apos;, serif" font-size="200" fill="#000">3400cm</text>
<text transform="translate(690.85,1234.20) scale(0.2054,0.2136)" font-family="&apos;Liberation Serif&apos;, serif" font-size="200" fill="#000">−</text>
<text transform="translate(717.16,1233.00) scale(0.2141,0.2886)" font-family="&apos;Liberation Serif&apos;, serif" font-size="200" fill="#000">1</text>
<text transform="translate(531.13,1329.06) scale(0.3582,0.3716)" font-family="&apos;Liberation Serif&apos;, serif" font-size="200" fill="#000">O−H</text>
<text transform="translate(1391.02,1004.04) scale(0.2755,0.2815)" font-family="&apos;Liberation Serif&apos;, serif" font-size="200" fill="#000">1580cm</text>
<text transform="translate(1565.96,982.13) scale(0.2043,0.2125)" font-family="&apos;Liberation Serif&apos;, serif" font-size="200" fill="#000">−</text>
<text transform="translate(1589.48,980.90) scale(0.1423,0.1970)" font-family="&apos;Liberation Serif&apos;, serif" font-size="200" fill="#000">1</text>
<text transform="translate(1420.83,1085.16) scale(0.3582,0.3724)" font-family="&apos;Liberation Serif&apos;, serif" font-size="200" fill="#000">C=C</text>
<text transform="translate(2064.12,1031.04) scale(0.2755,0.2791)" font-family="&apos;Liberation Serif&apos;, serif" font-size="200" fill="#000">1154cm</text>
<text transform="translate(2238.96,1009.23) scale(0.2043,0.2125)" font-family="&apos;Liberation Serif&apos;, serif" font-size="200" fill="#000">−</text>
<text transform="translate(2262.58,1008.00) scale(0.1423,0.1977)" font-family="&apos;Liberation Serif&apos;, serif" font-size="200" fill="#000">1</text>
<text transform="translate(2061.28,1106.45) scale(0.3624,0.3761)" font-family="&apos;Liberation Serif&apos;, serif" font-size="200" fill="#000">−SO</text>
<text transform="translate(2194.94,1124.62) scale(0.2179,0.2410)" font-family="&apos;Liberation Serif&apos;, serif" font-size="200" fill="#000">3</text>
<text transform="translate(2219.24,1106.10) scale(0.3716,0.3679)" font-family="&apos;Liberation Serif&apos;, serif" font-size="200" fill="#000">H</text>
<text transform="translate(910.90,1925.26) scale(0.4326,0.4343)" font-family="&apos;Liberation Serif&apos;, serif" font-size="200" fill="#000">Wavenumber(cm</text>
<text transform="translate(1511.01,1890.27) scale(0.2849,0.2963)" font-family="&apos;Liberation Serif&apos;, serif" font-size="200" fill="#000">-</text>
<text transform="translate(1534.07,1890.20) scale(0.2254,0.3038)" font-family="&apos;Liberation Serif&apos;, serif" font-size="200" fill="#000">1</text>
<text transform="translate(1559.48,1925.23) scale(0.4692,0.4350)" font-family="&apos;Liberation Serif&apos;, serif" font-size="200" fill="#000">)</text>
<text transform="translate(40.16,1806.2) scale(0.355,0.3711)" font-family="&apos;Liberation Serif&apos;, serif" font-size="200" fill="#000">4000</text>
<text transform="translate(355.35,1806.2) scale(0.355,0.3711)" font-family="&apos;Liberation Serif&apos;, serif" font-size="200" fill="#000">3500</text>
<text transform="translate(671.25,1806.2) scale(0.355,0.3711)" font-family="&apos;Liberation Serif&apos;, serif" font-size="200" fill="#000">3000</text>
<text transform="translate(987.32,1806.2) scale(0.355,0.3711)" font-family="&apos;Liberation Serif&apos;, serif" font-size="200" fill="#000">2500</text>
<text transform="translate(1304.47,1806.2) scale(0.355,0.3711)" font-family="&apos;Liberation Serif&apos;, serif" font-size="200" fill="#000">2000</text>
<text transform="translate(1622.07,1806.2) scale(0.355,0.3711)" font-family="&apos;Liberation Serif&apos;, serif" font-size="200" fill="#000">1500</text>
<text transform="translate(1938.67,1806.2) scale(0.355,0.3711)" font-family="&apos;Liberation Serif&apos;, serif" font-size="200" fill="#000">1000</text>
<text transform="translate(2271.24,1806.2) scale(0.355,0.3711)" font-family="&apos;Liberation Serif&apos;, serif" font-size="200" fill="#000">500</text>
</svg>
</body></html>
